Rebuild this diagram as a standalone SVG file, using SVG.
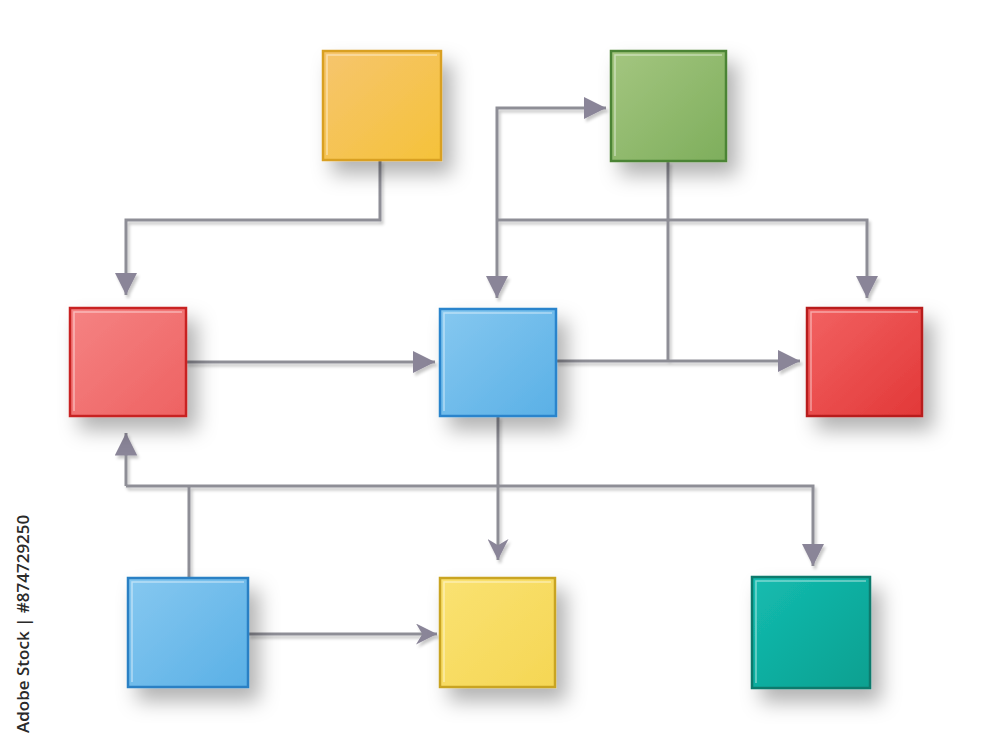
<svg xmlns="http://www.w3.org/2000/svg" width="1000" height="750" viewBox="0 0 1000 750">
  <defs>
    <filter id="shadow" x="-40%" y="-40%" width="190%" height="190%">
      <feDropShadow dx="10" dy="13" stdDeviation="10" flood-color="#000" flood-opacity="0.30"/>
    </filter>
    <filter id="lshadow" x="-10%" y="-10%" width="120%" height="120%">
      <feDropShadow dx="2" dy="3" stdDeviation="1.5" flood-color="#000" flood-opacity="0.22"/>
    </filter>
    <linearGradient id="gOrange" x1="0" y1="0" x2="1" y2="1"><stop offset="0" stop-color="#f6c56e"/><stop offset="1" stop-color="#f5c23a"/></linearGradient>
    <linearGradient id="gGreen" x1="0" y1="0" x2="1" y2="1"><stop offset="0" stop-color="#a4c680"/><stop offset="1" stop-color="#7eae5c"/></linearGradient>
    <linearGradient id="gRedL" x1="0" y1="0" x2="1" y2="1"><stop offset="0" stop-color="#f58383"/><stop offset="1" stop-color="#ee6262"/></linearGradient>
    <linearGradient id="gBlue" x1="0" y1="0" x2="1" y2="1"><stop offset="0" stop-color="#86c8f0"/><stop offset="1" stop-color="#5ab0e6"/></linearGradient>
    <linearGradient id="gRedR" x1="0" y1="0" x2="1" y2="1"><stop offset="0" stop-color="#f26262"/><stop offset="1" stop-color="#e23838"/></linearGradient>
    <linearGradient id="gYellow" x1="0" y1="0" x2="1" y2="1"><stop offset="0" stop-color="#fae272"/><stop offset="1" stop-color="#f5d654"/></linearGradient>
    <linearGradient id="gTeal" x1="0" y1="0" x2="1" y2="1"><stop offset="0" stop-color="#14bcb0"/><stop offset="1" stop-color="#0aa090"/></linearGradient>
    <marker id="tri" viewBox="0 0 10 10" refX="10" refY="5" markerWidth="7.5" markerHeight="7.5" markerUnits="strokeWidth" orient="auto">
      <path d="M0,0 L10,5 L0,10 Z" fill="#8a8598"/>
    </marker>
    <marker id="chev" viewBox="0 0 10 10" refX="10" refY="5" markerWidth="7" markerHeight="7" markerUnits="strokeWidth" orient="auto">
      <path d="M0,0 L10,5 L0,10 L3,5 Z" fill="#8a8598"/>
    </marker>
  </defs>
  <style>
    .c { fill: none; stroke: #8e8e96; stroke-width: 3; }
    .box { stroke-width: 2.5; }
    .hl { fill: none; stroke: #ffffff; stroke-opacity: 0.45; stroke-width: 1.5; }
    .wm { font-family: "Open Sans", "DejaVu Sans", sans-serif; font-size: 17px; font-weight: 600; fill: #2a2a2a; }
  </style>
  <rect width="1000" height="750" fill="#ffffff"/>

  <g id="connectors" filter="url(#lshadow)">
    <path class="c" d="M380,160 V220 H126 V295" marker-end="url(#tri)"/>
    <path class="c" d="M497,220 V108 H606" marker-end="url(#tri)"/>
    <path class="c" d="M497,220 V298" marker-end="url(#tri)"/>
    <path class="c" d="M497,220 H867 V298" marker-end="url(#tri)"/>
    <path class="c" d="M668,161 V361"/>
    <path class="c" d="M186,362 H435" marker-end="url(#tri)"/>
    <path class="c" d="M556,361 H800" marker-end="url(#tri)"/>
    <path class="c" d="M498,416 V560" marker-end="url(#chev)"/>
    <path class="c" d="M189,578 V486"/>
    <path class="c" d="M126,486 H813 V566" marker-end="url(#tri)"/>
    <path class="c" d="M126,486 V433" marker-end="url(#tri)"/>
    <path class="c" d="M248,634 H437" marker-end="url(#chev)"/>
  </g>

  <g id="node-orange" filter="url(#shadow)">
    <rect class="box" x="323" y="51" width="118" height="109" fill="url(#gOrange)" stroke="#d9a024"/>
    <path class="hl" d="M327,155 V55 H437"/>
  </g>
  <g id="node-green" filter="url(#shadow)">
    <rect class="box" x="611" y="51" width="115" height="110" fill="url(#gGreen)" stroke="#4b8434"/>
    <path class="hl" d="M615,156 V55 H722"/>
  </g>
  <g id="node-red-left" filter="url(#shadow)">
    <rect class="box" x="70" y="308" width="116" height="108" fill="url(#gRedL)" stroke="#c82424"/>
    <path class="hl" d="M74,411 V312 H182"/>
  </g>
  <g id="node-blue-center" filter="url(#shadow)">
    <rect class="box" x="440" y="309" width="116" height="107" fill="url(#gBlue)" stroke="#2a84cc"/>
    <path class="hl" d="M444,411 V313 H552"/>
  </g>
  <g id="node-red-right" filter="url(#shadow)">
    <rect class="box" x="807" y="308" width="115" height="108" fill="url(#gRedR)" stroke="#b81c1c"/>
    <path class="hl" d="M811,411 V312 H918"/>
  </g>
  <g id="node-blue-bottom" filter="url(#shadow)">
    <rect class="box" x="128" y="578" width="120" height="109" fill="url(#gBlue)" stroke="#2a80c4"/>
    <path class="hl" d="M132,682 V582 H244"/>
  </g>
  <g id="node-yellow" filter="url(#shadow)">
    <rect class="box" x="440" y="578" width="115" height="109" fill="url(#gYellow)" stroke="#c9a420"/>
    <path class="hl" d="M444,682 V582 H551"/>
  </g>
  <g id="node-teal" filter="url(#shadow)">
    <rect class="box" x="752" y="577" width="118" height="111" fill="url(#gTeal)" stroke="#0a7a6c"/>
    <path class="hl" d="M756,683 V581 H866"/>
  </g>

  <text class="wm" transform="translate(29,733) rotate(-90)">Adobe Stock | #874729250</text>
</svg>
